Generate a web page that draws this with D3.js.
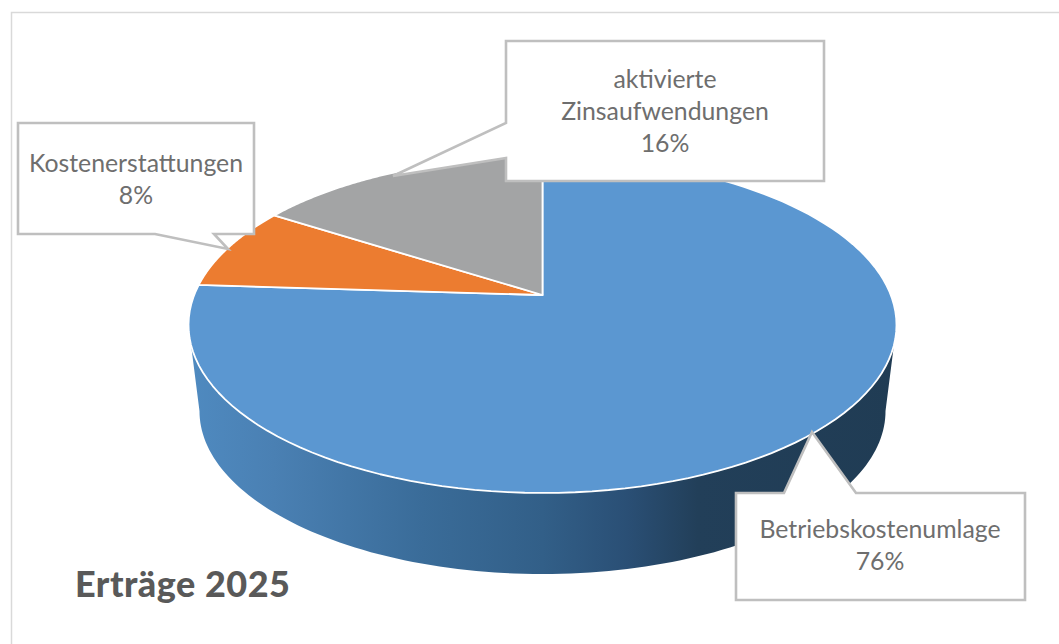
<!DOCTYPE html>
<html lang="de">
<head>
<meta charset="utf-8">
<title>Erträge 2025</title>
<script src="https://cdn.jsdelivr.net/npm/d3@7/dist/d3.min.js"></script>
<style>
html,body{margin:0;padding:0;background:#fff;overflow:hidden}
svg{display:block}
text{font-family:Lato,"Open Sans",sans-serif}
</style>
</head>
<body>
<svg id="chart" width="1059" height="644"></svg>
<script>
const chartTitle = "Erträge 2025";
const categories = ["Betriebskostenumlage", "Kostenerstattungen", "aktivierte Zinsaufwendungen"];
const labelLines = [["Betriebskostenumlage"], ["Kostenerstattungen"], ["aktivierte", "Zinsaufwendungen"]];
const values = [76, 8, 16];
const colors = ["#5B97D1", "#EC7C30", "#A3A4A5"];

const svg = d3.select("#chart");
const W = 1059, H = 644;

// Perspective projection of the pie disc
const k = 0.1786;
function projector(ax, by, apexX, apexY) {
  return a => {
    const w = 1 + k * Math.cos(a);
    return [apexX + ax * Math.sin(a) / w, apexY - by * Math.cos(a) / w];
  };
}
const topP = projector(348.3, 162.6, 542.5, 295);
const botP = projector(337.5, 157.7, 542.5, 382);

const slices = d3.pie().sort(null).value(d => d)(values);
const line = d3.line();
const sample = (p, a0, a1) => d3.range(0, 121).map(i => p(a0 + (a1 - a0) * i / 120));

// Frame
svg.append("path").attr("d", `M11.5,${H}V12.5H${W}`).attr("fill", "none").attr("stroke", "#d9d9d9").attr("stroke-width", 1.5);

// Wall gradient
const defs = svg.append("defs");
const grad = defs.append("linearGradient").attr("id", "wall").attr("gradientUnits", "userSpaceOnUse")
  .attr("x1", 189).attr("x2", 896).attr("y1", 0).attr("y2", 0);
[[0, "#4F8AC0"], [0.12, "#4A80B3"], [0.33, "#3A6C99"], [0.5, "#325F88"], [0.62, "#2A4F75"], [0.72, "#223F59"], [1, "#203C54"]]
  .forEach(([o, c]) => grad.append("stop").attr("offset", o).attr("stop-color", c));

// Front wall: visible part of each slice
const frontA = Math.PI - Math.acos(k), frontB = Math.PI + Math.acos(k);
const walls = slices.map(s => ({
  a0: Math.max(s.startAngle, frontA), a1: Math.min(s.endAngle, frontB)
})).filter(d => d.a1 > d.a0);
svg.selectAll("path.wall").data(walls).join("path").attr("class", "wall")
  .attr("d", d => line(sample(topP, d.a0, d.a1).concat(sample(botP, d.a0, d.a1).reverse())) + "Z")
  .attr("fill", "url(#wall)");

// Top face
svg.selectAll("path.slice").data(slices).join("path").attr("class", "slice")
  .attr("d", d => line([[542.5, 295]].concat(sample(topP, d.startAngle, d.endAngle))) + "Z")
  .attr("fill", (d, i) => colors[i])
  .attr("stroke", "#fff").attr("stroke-width", 1.8).attr("stroke-linejoin", "round");

// Callouts (drawn over the pie)
const callouts = [
  { path: "M736,493H784L812,432L856,493H1025V600H736Z", cx: 880, y: 538 },
  { path: "M18,123H254V234H214L228,249L155,234H18Z", cx: 136, y: 172 },
  { path: "M506,41H824V181H506V158L393,176L506,123Z", cx: 665, y: 88 }
];
const lineGap = 32;
callouts.forEach((c, i) => {
  svg.append("path").attr("d", c.path).attr("fill", "#fff")
    .attr("stroke", "#bfbfbf").attr("stroke-width", 2.6).attr("stroke-linejoin", "miter");
  const lines = labelLines[i].concat(values[i] + "%");
  svg.append("g").selectAll("text").data(lines).join("text")
    .attr("x", c.cx).attr("y", (d, j) => c.y + j * lineGap)
    .attr("text-anchor", "middle").attr("font-size", 24.8).attr("fill", "#6e6e6e")
    .text(d => d);
});

// Title
svg.append("text").attr("x", 75).attr("y", 597)
  .attr("font-size", 36).attr("font-weight", 900).attr("fill", "#595959")
  .attr("letter-spacing", 0.5).text(chartTitle);
</script>
</body>
</html>
